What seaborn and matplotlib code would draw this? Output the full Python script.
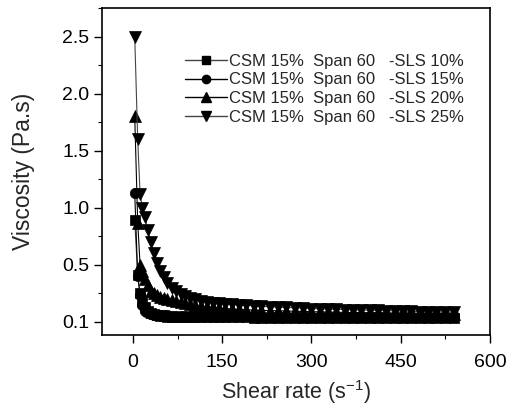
import matplotlib
matplotlib.use("Agg")
import matplotlib.pyplot as plt
import seaborn as sns
import pandas as pd
from matplotlib.lines import Line2D
from matplotlib.ticker import FixedLocator, FixedFormatter, MultipleLocator

# ---------------- data ----------------
shear_rate = [3, 8, 12, 16, 20, 25, 30, 35, 40, 46,
              52, 58, 65, 72, 80, 88, 96, 105, 115, 125,
              135, 145, 155, 166, 178, 190, 203, 216, 230, 244,
              258, 272, 286, 300, 314, 328, 342, 356, 370, 384,
              398, 412, 426, 440, 454, 468, 482, 496, 510, 524,
              540]

sls10 = [0.89, 0.41, 0.25, 0.18, 0.13, 0.10, 0.08, 0.07, 0.06, 0.055,
         0.050, 0.048, 0.046, 0.045, 0.044, 0.043, 0.042, 0.042, 0.041, 0.041,
         0.041, 0.040, 0.040, 0.040, 0.040, 0.040, 0.039, 0.039, 0.039, 0.039,
         0.039, 0.039, 0.039, 0.038, 0.038, 0.038, 0.038, 0.038, 0.038, 0.038,
         0.038, 0.038, 0.038, 0.038, 0.037, 0.037, 0.037, 0.037, 0.037, 0.037,
         0.037]

sls15 = [1.13, 0.40, 0.24, 0.15, 0.10, 0.08, 0.07, 0.065, 0.062, 0.060,
         0.058, 0.057, 0.056, 0.056, 0.055, 0.055, 0.055, 0.055, 0.055, 0.055,
         0.055, 0.055, 0.055, 0.055, 0.055, 0.055, 0.055, 0.055, 0.054, 0.054,
         0.054, 0.054, 0.054, 0.054, 0.054, 0.053, 0.053, 0.053, 0.053, 0.053,
         0.053, 0.053, 0.053, 0.052, 0.052, 0.052, 0.052, 0.052, 0.052, 0.052,
         0.052]

sls20 = [1.80, 0.87, 0.50, 0.45, 0.38, 0.32, 0.27, 0.25, 0.235, 0.22,
         0.21, 0.20, 0.19, 0.18, 0.172, 0.165, 0.155, 0.148, 0.140, 0.133,
         0.127, 0.122, 0.118, 0.114, 0.110, 0.107, 0.104, 0.102, 0.100, 0.098,
         0.096, 0.094, 0.092, 0.090, 0.089, 0.087, 0.086, 0.084, 0.083, 0.082,
         0.080, 0.079, 0.078, 0.077, 0.076, 0.075, 0.074, 0.073, 0.072, 0.071,
         0.070]

sls25 = [2.50, 1.60, 1.12, 1.00, 0.92, 0.81, 0.70, 0.60, 0.52, 0.45,
         0.39, 0.34, 0.30, 0.27, 0.245, 0.225, 0.21, 0.197, 0.186, 0.177,
         0.170, 0.164, 0.159, 0.154, 0.150, 0.146, 0.142, 0.138, 0.134, 0.130,
         0.127, 0.124, 0.121, 0.118, 0.115, 0.113, 0.111, 0.109, 0.107, 0.105,
         0.103, 0.101, 0.099, 0.097, 0.095, 0.093, 0.091, 0.090, 0.088, 0.087,
         0.085]

series_labels = ["CSM 15%  Span 60   -SLS 10%",
                 "CSM 15%  Span 60   -SLS 15%",
                 "CSM 15%  Span 60   -SLS 20%",
                 "CSM 15%  Span 60   -SLS 25%"]

y_tick_pos = [0.0, 0.5, 1.0, 1.5, 2.0, 2.5]
y_tick_labels = ["0.1", "0.5", "1.0", "1.5", "2.0", "2.5"]
x_ticks = [0, 150, 300, 450, 600]

# ---------------- style ----------------
sns.set_style("ticks")
plt.rcParams["font.family"] = ["Liberation Sans", "DejaVu Sans"]
plt.rcParams["mathtext.fontset"] = "custom"
plt.rcParams["mathtext.rm"] = "Liberation Sans"
plt.rcParams["mathtext.it"] = "Liberation Sans"

fig = plt.figure(figsize=(5.22, 4.07), dpi=100)
ax = fig.add_axes([102 / 522, (407 - 335) / 407, 388 / 522, 327 / 407])

markers = ["s", "o", "^", "v"]
msizes = [7, 7.5, 8.5, 8.5]
line_colors = ["#444444", "black", "black", "#444444"]
data_sets = [sls10, sls15, sls20, sls25]

frames = []
for lab, vals in zip(series_labels, data_sets):
    frames.append(pd.DataFrame({"shear": shear_rate, "visc": vals, "series": lab}))
df = pd.concat(frames, ignore_index=True)

handles = []
for lab, mk, ms, lc in zip(series_labels, markers, msizes, line_colors):
    sub = df[df["series"] == lab]
    sns.lineplot(data=sub, x="shear", y="visc", ax=ax, color=lc, lw=0.8,
                 marker=mk, markersize=ms, markerfacecolor="black",
                 markeredgecolor="black", markeredgewidth=0.5,
                 estimator=None, sort=False, legend=False)
    handles.append(Line2D([], [], color=lc, lw=1.0, marker=mk, markersize=ms - 1.5,
                          markerfacecolor="black", markeredgecolor="black"))

ax.set_xlim(-52, 600)
ax.set_ylim(-0.114, 2.75)

ax.xaxis.set_major_locator(FixedLocator(x_ticks))
ax.xaxis.set_minor_locator(MultipleLocator(75))
ax.yaxis.set_major_locator(FixedLocator(y_tick_pos))
ax.yaxis.set_major_formatter(FixedFormatter(y_tick_labels))
ax.yaxis.set_minor_locator(MultipleLocator(0.25))

ax.tick_params(axis="both", which="major", direction="out", length=6,
               width=1.0, labelsize=14, color="black", labelcolor="black")
ax.tick_params(axis="both", which="minor", direction="out", length=3,
               width=0.8, color="black")
ax.tick_params(axis="x", which="major", pad=8)
ax.tick_params(axis="y", which="major", pad=3)

for sp in ax.spines.values():
    sp.set_visible(True)
    sp.set_linewidth(1.2)
    sp.set_color("black")

ax.set_xlabel(r"Shear rate (s$^{-1}$)", fontsize=15.5, labelpad=5)
ax.set_ylabel("Viscosity (Pa.s)", fontsize=16.5, labelpad=20)

leg = ax.legend(handles, series_labels, loc="upper left",
                bbox_to_anchor=(0.215, 0.86), frameon=False, fontsize=12,
                handlelength=2.5, handletextpad=0.1, labelspacing=0.22,
                borderpad=0, borderaxespad=0)

fig.savefig("out.png", dpi=100)
